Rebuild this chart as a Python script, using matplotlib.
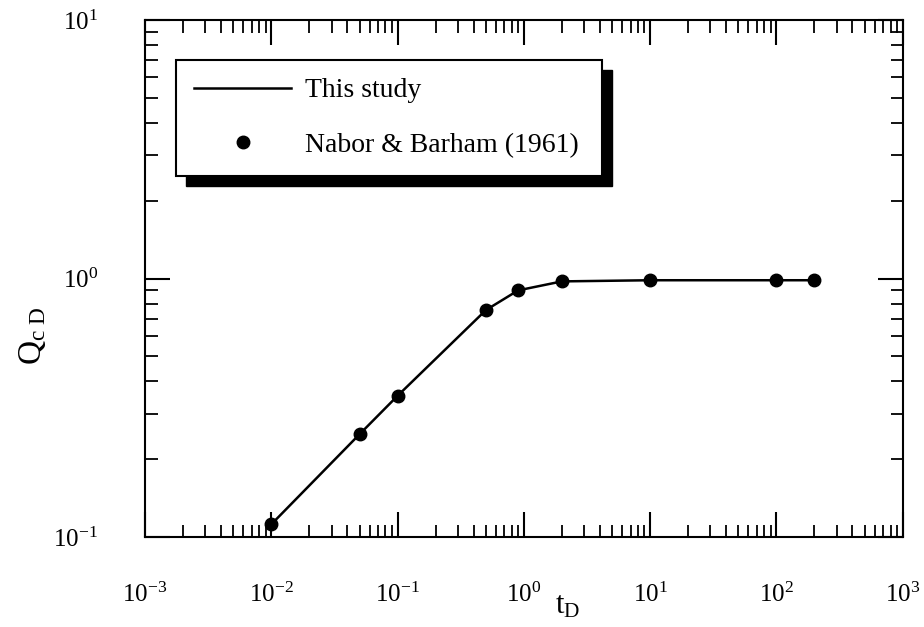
import numpy as np
import matplotlib
matplotlib.use('Agg')
import matplotlib.pyplot as plt
from matplotlib.patches import Rectangle

# t_D and Q_cD values
t_d = [0.01, 0.05, 0.1, 0.5, 0.9, 2, 10, 100, 200]
q_cd = [0.112, 0.25, 0.352, 0.755, 0.90, 0.975, 0.985, 0.985, 0.985]

x_ticks = [1e-3, 1e-2, 1e-1, 1e0, 1e1, 1e2, 1e3]
x_labels = ['10$^{-3}$', '10$^{-2}$', '10$^{-1}$', '10$^{0}$', '10$^{1}$', '10$^{2}$', '10$^{3}$']
y_ticks = [1e-1, 1e0, 1e1]
y_labels = ['10$^{-1}$', '10$^{0}$', '10$^{1}$']

plt.rcParams['font.family'] = ['Liberation Serif', 'DejaVu Serif']
plt.rcParams['mathtext.fontset'] = 'custom'
plt.rcParams['mathtext.rm'] = 'Liberation Serif'
plt.rcParams['mathtext.it'] = 'Liberation Serif'
plt.rcParams['mathtext.default'] = 'rm'


def main():
    fig = plt.figure(figsize=(9.24, 6.27), dpi=100)
    ax = fig.add_axes([0.157, 0.1435, 0.82, 0.8245])

    ax.plot(t_d, q_cd, color='black', lw=1.8, label='This study')
    ax.plot(t_d, q_cd, 'o', color='black', ms=9, label='Nabor & Barham (1961)')

    ax.set_xscale('log')
    ax.set_yscale('log')
    ax.set_xlim(1e-3, 1e3)
    ax.set_ylim(1e-1, 1e1)
    ax.set_xticks(x_ticks)
    ax.set_xticklabels(x_labels, fontsize=18)
    ax.set_yticks(y_ticks)
    ax.set_yticklabels(y_labels, fontsize=18)

    ax.tick_params(which='both', direction='in', top=True, right=True)
    ax.tick_params(which='major', length=18, width=1.5)
    ax.tick_params(which='minor', length=9, width=1.3)
    ax.tick_params(axis='y', which='major', pad=34)
    ax.tick_params(axis='x', which='major', pad=33)
    for s in ax.spines.values():
        s.set_linewidth(1.5)

    ax.set_xlabel('t$_{\\mathrm{D}}$', fontsize=22)
    ax.xaxis.set_label_coords(0.558, -0.105)
    ax.set_ylabel('Q$_{\\mathrm{c\\ D}}$', fontsize=24)
    ax.yaxis.set_label_coords(-0.128, 0.39)

    leg = ax.legend(loc='upper left', bbox_to_anchor=(0.041, 0.923, 0.562, 0),
                    mode='expand', borderaxespad=0, fancybox=False, fontsize=20,
                    handlelength=3.5, handletextpad=0.5, labelspacing=1.05,
                    borderpad=0.65, frameon=True, edgecolor='black',
                    facecolor='white', framealpha=1)
    leg.get_frame().set_linewidth(1.5)
    leg.set_zorder(5)

    # heavy drop shadow under the legend box
    fig.canvas.draw()
    bb = leg.get_window_extent().transformed(ax.transAxes.inverted())
    dx = 10 / (0.82 * 924)
    dy = 10 / (0.8245 * 627)
    ax.add_patch(Rectangle((bb.x0 + dx, bb.y0 - dy), bb.width, bb.height,
                           transform=ax.transAxes, color='black',
                           zorder=4.9, clip_on=False))

    fig.savefig('out.png', dpi=100)


if __name__ == "__main__":
    main()
